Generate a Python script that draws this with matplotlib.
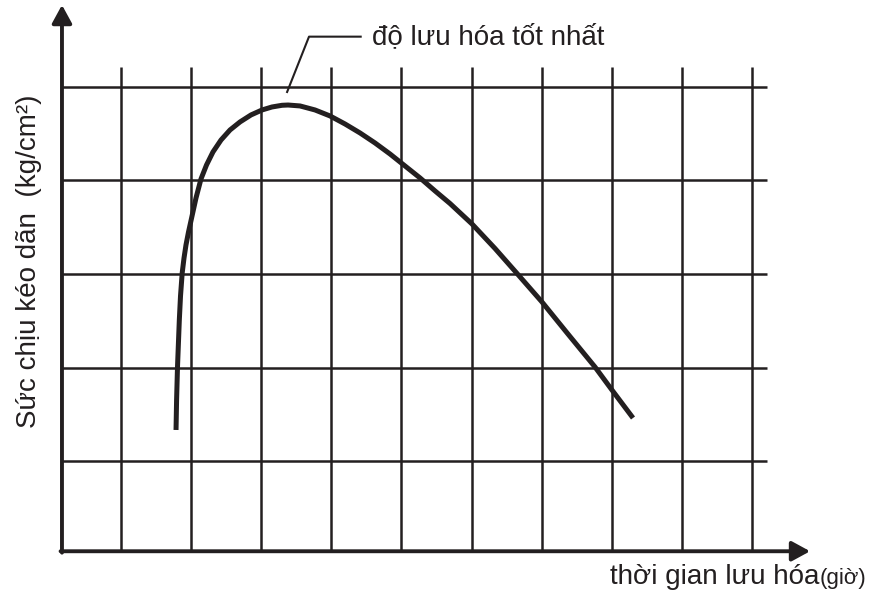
import matplotlib
matplotlib.use("Agg")
import matplotlib.pyplot as plt
from matplotlib import font_manager as fm

# ---------------- data ----------------
time_grid = [1, 2, 3, 4, 5, 6, 7, 8, 9, 10]          # vertical grid lines (time units)
strength_grid = [1, 2, 3, 4, 5]                      # horizontal grid lines (strength units)

curve_time = [1.785, 1.793, 1.806, 1.832, 1.849, 1.873, 1.899, 1.927, 1.963, 2.001,
              2.070, 2.141, 2.220,
              2.312, 2.427, 2.555, 2.698, 2.855, 3.012, 3.154, 3.297, 3.383, 3.554,
              3.768, 3.982, 4.196, 4.410, 4.624, 4.838, 5.052, 5.266, 5.480, 5.693,
              6.007, 6.335, 6.649, 7.005, 7.376, 7.762, 8.004, 8.304]
curve_strength = [1.332, 1.652, 2.005, 2.508, 2.765, 3.011, 3.171, 3.310, 3.449, 3.578,
                  3.813, 4.016, 4.166,
                  4.305, 4.433, 4.540, 4.626, 4.701, 4.754, 4.786, 4.804, 4.807, 4.797,
                  4.754, 4.690, 4.604, 4.508, 4.401, 4.283, 4.155, 4.027, 3.888, 3.754,
                  3.535, 3.273, 3.006, 2.701, 2.358, 2.005, 1.759, 1.460]

optimum_label = "độ lưu hóa tốt nhất"
leader_time = [3.364, 3.682, 4.434]
leader_strength = [4.936, 5.538, 5.538]

x_label = "thời gian lưu hóa"
x_unit = "(giờ)"
y_label = "Sức chịu kéo dãn  (kg/cm²)"

# ---------------- style ----------------
ink = "#231f20"


def pick_font(cands):
    for f in cands:
        try:
            fm.findfont(f, fallback_to_default=False)
            return f
        except Exception:
            pass
    return "DejaVu Sans"


font = pick_font(["Liberation Sans", "Arial", "Noto Sans"])
plt.rcParams["font.family"] = [font, "DejaVu Sans"]

fig = plt.figure(figsize=(8.72, 6.01), dpi=100)
ax = fig.add_axes([0, 0, 1, 1])
ax.set_xlim(-0.726, 11.713)
ax.set_ylim(-0.497, 5.930)
ax.axis("off")

t0, s0 = 0.158, 0.035     # origin of the drawn axes
grid_top = 5.214
grid_right = 10.21

ax.vlines(time_grid, s0, grid_top, colors=ink, lw=1.8, capstyle="butt")
ax.hlines(strength_grid, t0, grid_right, colors=ink, lw=1.8, capstyle="butt")

arrow = dict(arrowstyle="-|>,head_length=0.55,head_width=0.3", lw=2.8, color=ink,
             mutation_scale=20, shrinkA=0, shrinkB=0)
ax.annotate("", xy=(10.83, s0), xytext=(t0 - 0.02, s0), arrowprops=arrow)
ax.annotate("", xy=(t0, 5.877), xytext=(t0, s0 - 0.015), arrowprops=arrow)

ax.plot(curve_time, curve_strength, color=ink, lw=3.6,
        solid_joinstyle="round", solid_capstyle="butt")

ax.plot(leader_time, leader_strength, color=ink, lw=1.5, solid_capstyle="butt")

W, H = 872, 601
fig.text(372 / W, (H - 44) / H, optimum_label, fontsize=20, color=ink,
         ha="left", va="baseline")
fig.text(610 / W, (H - 584) / H, x_label, fontsize=20, color=ink,
         ha="left", va="baseline")
fig.text(820 / W, (H - 584) / H, x_unit, fontsize=16, color=ink,
         ha="left", va="baseline")
fig.text(29 / W, (H - 261) / H, y_label, fontsize=20, color=ink,
         rotation=90, ha="center", va="center")

fig.savefig("out.png", dpi=100, facecolor="white")
